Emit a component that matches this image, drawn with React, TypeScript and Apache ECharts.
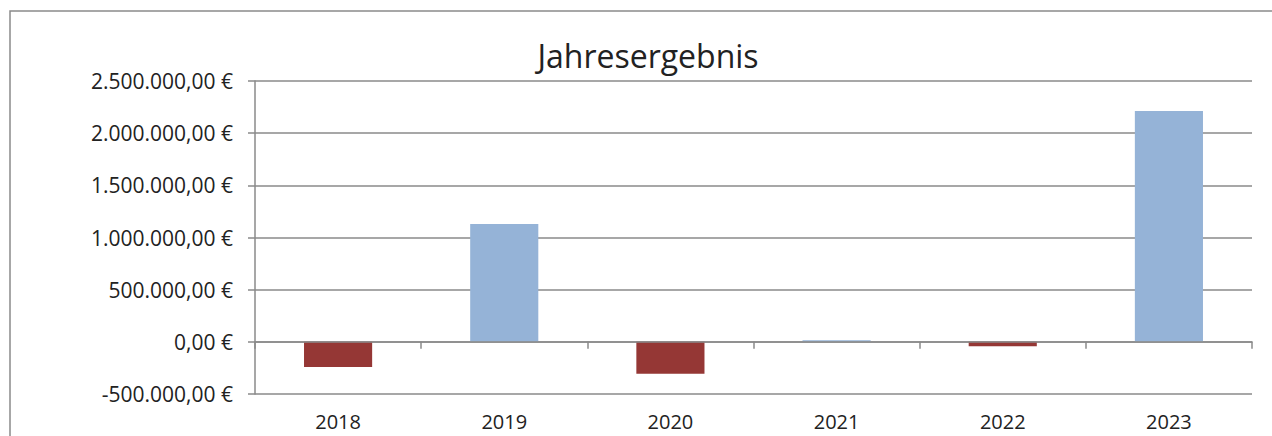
import React, { useEffect, useRef } from "react";
import * as echarts from "echarts";

const categories = ["2018", "2019", "2020", "2021", "2022", "2023"];
const values = [-242000, 1130000, -306000, 16000, -42000, 2213000];
const yTicks = { min: -500000, max: 2500000, interval: 500000 };

const POS = "#95B3D7";
const NEG = "#953735";

function fmt(v: number): string {
  const neg = v < 0;
  const a = Math.abs(Math.round(v));
  const s = String(a).replace(/\B(?=(\d{3})+(?!\d))/g, ".");
  return (neg ? "-" : "") + s + ",00 €";
}

export default function App() {
  const ref = useRef<HTMLDivElement>(null);
  useEffect(() => {
    if (!ref.current) return;
    const chart = echarts.init(ref.current, null, { renderer: "svg" });
    const font = "'Open Sans', 'Noto Sans', sans-serif";
    const txt = "#222222";
    chart.setOption({
      animation: false,
      backgroundColor: "#ffffff",
      textStyle: { fontFamily: font },
      title: {
        text: "Jahresergebnis",
        left: 643,
        textAlign: "center",
        top: 34,
        textStyle: { fontFamily: font, fontSize: 32, fontWeight: "normal", color: txt },
      },
      graphic: [
        {
          type: "rect",
          shape: { x: 10, y: 11, width: 1300, height: 500 },
          style: { fill: "none", stroke: "#8a8a8a", lineWidth: 1.5 },
          silent: true,
          z: -1,
        },
      ],
      grid: { left: 255, right: 20, top: 81, bottom: 42 },
      xAxis: [
        {
          type: "category",
          data: categories,
          axisLine: { onZero: true, lineStyle: { color: "#8a8a8a", width: 1.5 } },
          axisTick: { show: true, length: 7, lineStyle: { color: "#8a8a8a", width: 1.5 } },
          axisLabel: { show: false },
          z: 10,
        },
        {
          type: "category",
          data: categories,
          position: "bottom",
          axisLine: { show: false, onZero: false },
          axisTick: { show: false },
          axisLabel: { show: true, color: txt, fontSize: 20, lineHeight: 17, fontFamily: font, margin: 19 },
        },
      ],
      yAxis: {
        type: "value",
        min: yTicks.min,
        max: yTicks.max,
        interval: yTicks.interval,
        axisLine: { show: true, lineStyle: { color: "#8a8a8a", width: 1.5 } },
        axisTick: { show: true, length: 7, lineStyle: { color: "#8a8a8a", width: 1.5 } },
        splitLine: { show: true, lineStyle: { color: "#8a8a8a", width: 1.5 } },
        axisLabel: { color: txt, fontSize: 21, fontFamily: font, margin: 22, formatter: (v: number) => fmt(v) },
      },
      series: [
        {
          type: "bar",
          xAxisIndex: 0,
          barWidth: "41%",
          data: values.map((v) => ({ value: v, itemStyle: { color: v >= 0 ? POS : NEG } })),
        },
      ],
    });
    return () => chart.dispose();
  }, []);
  return (
    <div
      ref={ref}
      style={{ position: "fixed", left: 0, top: 0, width: 1272, height: 436 }}
    />
  );
}
